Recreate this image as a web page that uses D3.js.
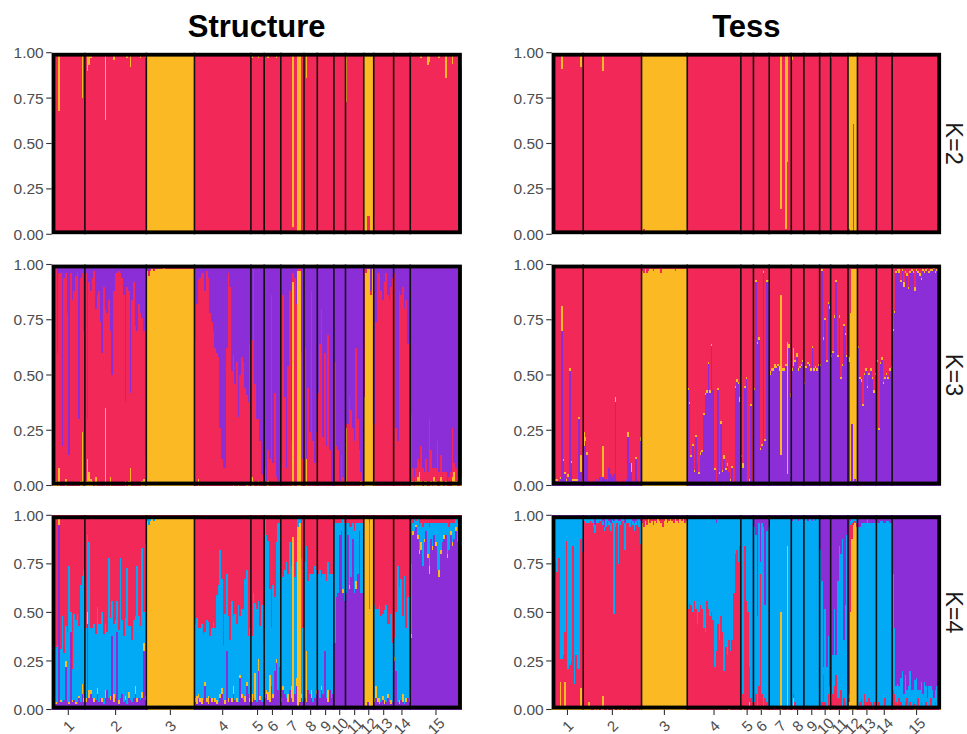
<!DOCTYPE html>
<html><head><meta charset="utf-8">
<script src="https://cdn.jsdelivr.net/npm/d3@7"></script>
<style>
body{margin:0;background:#fff}
text{font-family:"Liberation Sans",Arial,Helvetica,sans-serif}
</style>
</head><body>
<svg id="chart" width="967" height="734"></svg>
<script>
// ---------------- data ----------------
const popLabels = ["1","2","3","4","5","6","7","8","9","10","11","12","13","14","15"];
const popSizes  = [20,37,29,34,8,10,14,8,10,7,11,6,12,10,31];
const methodTitles = ["Structure","Tess"];
const kLabels = ["K=2","K=3","K=4"];
const yTickValues = [0,0.25,0.5,0.75,1];
const yTickLabels = ["0.00","0.25","0.50","0.75","1.00"];
const clusterColors = {red:"#F22858", orange:"#FBB923", purple:"#8C2ED7", blue:"#02A9F4"};

// membership (%) per individual, grouped by population
const strK2Orange = [
 [1,0,0,1,32,0,0,0,0,0,0,0,0,0,0,0,0,0,25,1],
 [2,10,7,3,0,0,0,0,0,0,0,0,37,0,0,0,0,4,0,0,0,0,0,0,0,3,0,8,0,0,0,0,0,3,0,0,3],
 [100,100,100,100,100,100,100,100,100,100,100,100,100,100,100,100,100,100,100,100,100,100,100,100,100,100,100,100,100],
 [2,1,0,0,0,0,0,0,0,0,0,0,0,0,0,0,0,0,0,0,0,0,0,0,0,0,0,0,0,0,0,0,0,0],
 [3,0,2,1,3,0,0,0],
 [0,0,3,0,0,0,0,3,0,0],
 [0,0,0,0,0,0,0,96,0,0,99,100,0,2],
 [0,14,0,0,0,0,0,0],
 [0,0,0,0,0,0,0,0,0,0],
 [0,0,0,0,0,0,0],
 [27,0,0,0,0,0,0,0,0,2,0],
 [100,98,90,90,98,100],
 [1,0,0,1,0,0,0,0,0,0,0,0],
 [0,0,0,0,0,0,0,0,0,0],
 [0,0,0,0,0,0,3,0,0,0,7,5,0,0,0,0,0,3,0,0,0,14,0,0,0,6,0,0,0,0,8]
];
const tessK2Orange = [
 [0,0,0,0,0,0,9,0,0,0,0,0,0,0,0,0,0,0,8,0],
 [1,2,0,0,0,0,0,0,0,0,0,0,10,0,0,0,0,0,0,0,0,0,0,0,0,0,0,2,0,0,0,0,0,0,0,0,0],
 [98,97,99,98,99,99,99,99,99,98,99,99,99,99,99,98,99,99,99,99,99,99,99,99,99,99,99,99,99],
 [0,0,0,0,0,0,0,0,0,0,0,0,0,0,0,0,0,0,0,0,0,0,0,0,0,1,0,0,0,0,0,0,0,0],
 [0,0,0,0,0,0,0,0],
 [0,0,0,0,0,0,0,0,0,0],
 [0,0,0,0,0,0,0,86,0,0,97,60,0,0],
 [4,0,0,0,0,0,0,0],
 [0,0,0,0,0,0,0,0,0,0],
 [0,0,0,0,0,0,0],
 [3,0,0,0,0,0,0,0,0,0,0],
 [97,98,98,39,98,98],
 [0,0,0,0,0,0,0,0,0,0,0,0],
 [0,0,0,0,0,0,0,0,0,0],
 [0,0,0,0,0,0,0,0,0,0,1,0,0,0,0,0,0,0,0,0,0,0,2,0,0,0,0,0,0,0,1]
];
const strK3Orange = [
 [0,2,2,0,8,0,0,0,3,0,0,0,0,0,0,0,0,2,24,0],
 [2,12,6,3,2,0,4,0,0,0,0,0,35,0,0,4,0,0,0,0,0,0,0,0,2,0,2,8,0,0,0,0,0,0,2,3,0],
 [97,95,97,98,97,98,98,98,98,98,99,98,98,98,98,98,98,98,98,98,98,98,98,98,98,98,98,98,98],
 [0,0,3,0,0,0,0,0,0,0,0,0,0,0,0,0,0,0,0,0,0,0,0,1,0,0,1,0,0,0,0,1,0,0],
 [4,2,0,0,2,0,0,0],
 [0,0,2,0,0,0,0,0,0,0],
 [0,0,0,0,0,0,0,92,0,0,97,97,0,0],
 [0,12,0,0,0,0,0,0],
 [0,0,0,0,0,0,0,0,0,0],
 [0,0,0,0,0,0,0],
 [26,0,0,0,0,0,0,0,0,2,0],
 [40,96,98,98,86,98],
 [2,0,0,0,0,0,0,0,0,0,0,0],
 [0,0,0,0,0,0,0,0,0,0],
 [2,2,0,2,4,6,2,0,2,2,0,0,2,0,4,2,0,0,4,2,0,2,0,0,0,4,6,2,0,0,4]
];
const strK3Red = [
 [85,85,96,60,88,96,18,94,93,78,14,96,84,88,95,96,30,92,72,70],
 [94,18,86,85,92,97,76,86,88,74,60,90,45,78,84,66,50,88,96,96,97,96,94,86,36,90,86,34,84,92,72,70,82,78,74,67,14],
 [1,2,1,1,1,1,1,0,1,1,0,1,1,1,1,1,1,1,1,1,1,1,1,1,1,1,1,1,1],
 [66,82,90,94,96,96,88,97,94,78,74,70,62,60,58,26,12,8,8,62,96,90,52,58,46,56,30,50,58,56,44,40,38,64],
 [62,96,46,30,28,20,5,4],
 [8,2,14,12,86,10,42,4,2,2],
 [10,86,40,8,54,88,20,4,94,82,1,1,60,12],
 [62,0,44,24,88,20,10,24],
 [42,64,80,22,60,18,68,16,2,0],
 [56,18,16,2,14,4,2],
 [2,28,40,34,26,20,62,30,16,4,2],
 [58,2,0,0,2,0],
 [26,74,96,96,88,84,92,96,86,84,90,94],
 [96,26,20,88,86,90,80,84,64,66],
 [30,6,4,6,8,4,16,8,4,10,6,30,14,8,4,6,20,6,10,4,6,4,2,4,6,22,4,6,2,4,6]
];
const tessK3Purple = [
 [2,2,2,2,1,3,70,11,5,2,4,52,10,2,2,2,2,30,6,1],
 [18,20,14,2,1,1,2,2,3,2,4,2,4,3,3,2,8,5,4,5,38,2,1,1,1,2,1,3,22,10,6,2,2,12,3,1,20],
 [0,0,0,0,0,0,0,0,0,0,0,0,0,0,0,0,0,0,0,0,0,0,0,0,0,0,0,0,0],
 [43,37,13,18,6,22,10,5,14,15,32,41,42,55,42,63,43,7,1,43,5,28,6,12,7,9,6,2,8,1,44,47,46,38],
 [13,8,44,48,2,2,36,2],
 [43,92,64,66,16,18,96,20,92,92],
 [50,52,52,53,53,54,52,14,52,52,54,5,62,40],
 [52,54,56,58,52,53,54,56],
 [46,53,55,54,52,62,52,53,52,54],
 [54,97,66,75,56,82,80],
 [58,60,76,92,58,76,48,54,72,68,58],
 [56,2,28,2,3,2],
 [62,48,47,36,50,52,44,50,52,48,42,50],
 [56,25,55,57,46,48,50,48,52,53],
 [70,78,96,97,96,92,97,90,96,95,89,96,97,96,88,97,96,95,93,97,96,97,98,96,97,97,98,96,97,96,95]
];
const tessK3Orange = [
 [1,1,1,1,0,1,11,1,1,1,1,1,1,1,1,1,1,1,8,1],
 [6,2,1,0,0,0,0,0,0,0,0,0,14,0,0,0,0,0,0,0,2,0,0,0,0,0,0,0,2,0,4,0,0,1,0,0,2],
 [97,96,98,96,97,98,98,97,98,98,98,98,96,98,98,98,98,98,98,98,98,97,98,98,98,98,98,98,98],
 [1,1,1,1,1,1,0,1,1,1,1,1,1,1,1,1,0,1,0,1,1,1,1,2,1,1,0,1,1,0,1,1,1,2],
 [1,2,1,1,0,1,1,0],
 [1,1,1,1,1,1,1,1,1,1],
 [2,1,1,2,1,1,2,72,1,1,1,60,2,2],
 [1,8,1,2,1,1,1,1],
 [1,1,1,1,1,1,1,1,1,1],
 [1,1,1,1,1,1,1],
 [1,1,1,1,1,1,1,1,1,1,1],
 [2,76,70,96,95,96],
 [1,1,1,1,1,1,1,1,1,1,1,1],
 [1,1,1,1,1,1,1,1,1,1],
 [1,1,1,1,2,1,1,2,1,1,1,1,1,1,2,1,1,1,1,1,1,1,1,1,1,1,1,1,1,1,2]
];
const strK4Purple = [
 [5,4,3,3,95,4,4,5,22,4,3,40,4,5,3,3,6,4,8,4],
 [4,44,6,8,6,4,5,8,4,6,4,3,6,10,6,5,38,4,6,40,3,6,8,4,5,3,6,5,4,6,8,4,6,5,6,30,5],
 [1,0,0,0,0,0,0,0,0,0,0,0,0,0,0,0,0,0,0,0,0,0,0,0,0,0,0,0,0],
 [4,3,6,4,3,5,12,4,3,6,4,5,4,3,4,6,8,5,3,30,4,6,4,8,5,4,4,16,6,5,4,12,8,4],
 [4,6,5,4,20,5,4,6],
 [6,8,5,4,12,6,20,24,10,22],
 [4,10,8,6,4,10,6,4,8,12,2,4,6,4],
 [6,4,10,8,6,4,6,8],
 [10,6,10,8,30,6,4,10,6,8],
 [34,58,60,90,92,60,56],
 [60,90,62,68,88,60,62,70,92,60,60],
 [2,2,4,2,2,2],
 [4,6,4,3,4,5,3,4,6,4,3,4],
 [25,20,4,3,5,4,3,4,6,4],
 [37,90,92,94,88,80,82,74,86,92,78,70,88,82,90,84,72,68,80,86,88,90,78,82,90,84,88,92,86,90,84]
];
const strK4Orange = [
 [1,2,1,0,3,1,0,0,3,0,1,0,1,0,1,0,1,0,5,2],
 [2,6,4,2,0,2,0,3,0,0,2,0,4,0,0,2,0,4,0,0,2,0,0,0,2,0,3,0,0,0,4,2,0,0,3,4,2],
 [96,95,97,98,97,98,98,98,98,98,98,98,98,98,98,98,98,98,98,98,98,98,98,98,98,98,98,98,98],
 [2,4,2,2,3,0,2,2,4,0,2,0,2,2,0,2,3,0,2,0,2,0,2,4,0,2,0,2,2,0,3,2,0,2],
 [4,0,14,0,6,2,0,0],
 [0,2,4,14,0,2,0,2,0,0],
 [2,2,0,0,4,0,6,85,0,4,92,92,2,0],
 [0,26,0,0,4,0,0,2],
 [0,0,2,0,0,0,6,0,0,0],
 [0,0,0,0,0,2,0],
 [0,0,2,0,0,0,4,0,0,0,0],
 [96,96,94,50,96,96],
 [2,6,2,3,0,2,2,0,2,0,2,0],
 [2,0,0,2,0,4,0,2,0,2],
 [2,2,0,1,2,2,4,0,2,0,2,4,0,2,0,2,0,4,2,0,2,0,2,0,2,2,0,2,0,2,2]
];
const strK4Blue = [
 [42,38,28,30,0,26,44,24,18,36,70,10,16,44,42,46,36,60,56,66],
 [36,40,76,32,36,38,34,42,40,38,44,36,34,30,72,40,18,36,40,16,36,72,38,34,40,70,34,38,32,40,36,68,42,38,74,16,78],
 [2,3,2,1,2,1,1,1,1,1,1,1,1,1,1,1,1,1,1,1,1,1,1,1,1,1,1,1,1],
 [38,40,34,36,38,34,26,40,38,32,36,40,36,54,60,74,56,28,44,40,42,30,50,36,44,38,50,30,44,46,60,58,30,36],
 [30,54,36,48,30,36,50,28],
 [92,80,78,44,30,56,38,60,86,74],
 [64,56,64,70,62,76,62,0,60,60,4,2,70,38],
 [70,54,56,62,60,66,68,62],
 [60,66,56,62,40,60,66,60,64,62],
 [62,38,36,6,4,36,40],
 [36,6,30,26,8,32,30,26,4,36,36],
 [0,0,0,44,0,0],
 [48,40,46,48,44,42,46,50,36,40,44,30],
 [10,30,70,58,62,40,66,36,52,40],
 [36,4,6,2,8,12,10,20,8,4,16,20,8,12,6,10,24,24,14,10,6,6,16,12,4,10,8,4,10,6,12]
];
const tessK4Orange = [
 [1,1,1,1,1,14,1,1,14,1,1,1,1,1,1,1,1,1,11,1],
 [1,1,2,4,1,0,0,1,0,1,0,1,7,0,0,1,0,0,0,1,0,0,1,0,1,0,0,1,0,0,1,0,0,0,1,0,1],
 [96,94,97,95,98,96,97,95,97,96,98,97,96,94,97,98,96,97,98,97,96,98,97,96,98,97,98,96,97],
 [0,0,0,0,0,0,0,0,0,0,0,0,0,0,0,0,0,0,0,0,0,0,0,0,0,0,2,0,0,0,0,0,0,0],
 [0,2,0,0,0,4,0,0],
 [0,0,0,0,0,2,0,0,0,0],
 [0,0,0,0,0,0,0,50,0,0,0,84,0,0],
 [0,6,0,0,0,0,0,0],
 [0,0,0,0,0,0,0,0,0,0],
 [0,0,0,0,0,2,0],
 [0,0,0,0,0,2,0,0,0,0,0],
 [4,50,88,95,96,94],
 [0,0,0,0,0,0,2,0,0,0,0,0],
 [0,0,0,0,0,0,0,0,0,0],
 [0,0,0,1,0,0,0,0,0,0,0,0,0,0,1,0,0,0,0,0,0,0,0,0,0,0,0,0,0,0,1]
];
const tessK4Red = [
 [72,64,75,70,77,12,25,27,26,86,20,22,24,83,12,27,20,20,77,80],
 [96,95,94,92,96,96,94,90,96,95,97,96,88,92,94,96,95,92,96,48,94,96,74,95,96,96,82,95,96,94,96,95,92,95,96,94,84],
 [3,5,2,4,1,3,2,4,2,3,1,2,3,5,2,1,3,2,1,2,3,1,2,3,1,2,1,3,2],
 [52,55,54,50,56,52,44,50,54,52,42,40,56,52,48,50,46,22,30,44,36,48,40,20,32,28,34,30,36,60,80,82,76,84],
 [4,6,84,56,50,18,6,4],
 [4,8,2,12,70,6,2,6,4,2],
 [2,2,1,2,1,2,1,0,2,1,2,0,1,2],
 [1,2,4,1,1,2,1,1],
 [1,1,1,1,1,1,1,1,1,1],
 [2,4,18,4,2,6,2],
 [4,8,12,18,6,4,10,2,6,4,2],
 [2,45,8,2,1,2],
 [2,4,6,2,8,4,2,6,4,2,4,2],
 [2,4,2,1,2,6,2,1,2,4],
 [10,8,4,2,6,4,2,2,4,6,2,4,2,4,2,2,6,2,4,2,2,4,2,2,6,2,2,4,2,2,4]
];
const tessK4Blue = [
 [26,34,23,28,21,73,73,71,59,12,78,76,74,15,86,71,78,78,11,18],
 [2,2,2,4,2,2,4,4,2,2,1,2,2,2,4,2,2,4,2,48,4,2,22,2,2,2,14,2,2,4,2,2,4,2,2,4,12],
 [0,0,0,0,0,0,0,0,0,0,0,0,0,0,0,0,0,0,0,0,0,0,0,0,0,0,0,0,0],
 [46,44,44,48,42,46,54,48,44,46,56,58,42,46,50,48,52,76,66,54,62,50,58,78,66,70,62,68,62,38,18,16,22,14],
 [94,90,14,42,48,76,92,94],
 [90,82,46,84,6,88,92,48,88,92],
 [97,96,97,97,98,96,97,48,96,97,96,14,97,96],
 [96,90,94,97,96,96,97,97],
 [96,97,96,97,97,96,97,96,97,97],
 [80,62,4,48,20,30,10],
 [4,20,40,10,60,78,70,86,30,50,88],
 [2,2,2,1,1,2],
 [92,90,90,94,88,92,94,90,92,94,92,94],
 [94,92,95,96,94,90,95,96,94,92],
 [60,34,8,10,6,12,18,6,14,4,10,16,8,6,12,14,4,8,10,6,12,8,4,10,6,8,4,6,10,2,10]
];

// panel specs: stacking order bottom -> top; the cluster not listed in "given" is the remainder
const panelSpecs = [
  {col:0,row:0, order:["red","orange"], given:{orange:strK2Orange}},
  {col:1,row:0, order:["red","orange"], given:{orange:tessK2Orange}},
  {col:0,row:1, order:["orange","red","purple"], given:{orange:strK3Orange, red:strK3Red}},
  {col:1,row:1, order:["purple","orange","red"], given:{purple:tessK3Purple, orange:tessK3Orange}},
  {col:0,row:2, order:["purple","orange","blue","red"], given:{purple:strK4Purple, orange:strK4Orange, blue:strK4Blue}},
  {col:1,row:2, order:["orange","red","blue","purple"], given:{orange:tessK4Orange, red:tessK4Red, blue:tessK4Blue}}
];

// ---------------- layout ----------------
const cols = [{x0:51.7,x1:461.7},{x0:551.7,x1:941}];
const rows = [{y0:52.7,y1:234.3},{y0:264.5,y1:485.5},{y0:515.3,y1:709.5}];
const N = d3.sum(popSizes);
const popStart = popSizes.map((s,i)=>d3.sum(popSizes.slice(0,i)));

const svg = d3.select("#chart");

// titles
methodTitles.forEach((t,i)=>{
  svg.append("text").attr("x",(cols[i].x0+cols[i].x1)/2).attr("y",37)
    .attr("text-anchor","middle").attr("font-size",31).attr("font-weight","bold")
    .attr("fill","#000").text(t);
});
// K strip labels
kLabels.forEach((t,i)=>{
  const cy=(rows[i].y0+rows[i].y1)/2;
  svg.append("text").attr("transform",`translate(953.5,${cy}) rotate(90)`)
    .attr("text-anchor","middle").attr("dominant-baseline","central")
    .attr("font-size",23.5).attr("fill","#1a1a1a").text(t);
});

function buildRows(spec){
  const comps = Object.keys(spec.given);
  const rest = spec.order.find(c=>!comps.includes(c));
  const flat = {};
  comps.forEach(c=>flat[c]=spec.given[c].flat());
  const out=[];
  for(let i=0;i<N;i++){
    const v={};
    let s=0;
    comps.forEach(c=>{v[c]=(flat[c][i]||0)/100; s+=v[c];});
    if(s>1){comps.forEach(c=>v[c]/=s); s=1;}
    v[rest]=Math.max(0,1-s);
    out.push(v);
  }
  return out;
}

panelSpecs.forEach(spec=>{
  const {x0,x1}=cols[spec.col];
  const {y0,y1}=rows[spec.row];
  const g=svg.append("g");
  const x=d3.scaleBand().domain(d3.range(N)).range([x0,x1]).padding(0);
  const y=d3.scaleLinear().domain([0,1]).range([y1,y0]);
  const data=buildRows(spec);
  const series=d3.stack().keys(spec.order)(data);
  const bw=x.bandwidth();
  g.selectAll("g.s").data(series).join("g").attr("class","s")
    .attr("fill",d=>clusterColors[d.key]).attr("shape-rendering","crispEdges")
    .selectAll("rect").data(d=>d).join("rect")
    .attr("x",(d,i)=>x(i)).attr("width",bw)
    .attr("y",d=>y(d[1])).attr("height",d=>Math.max(0,y(d[0])-y(d[1])));
  // population separators
  g.selectAll("line.sep").data(popStart.slice(1)).join("line").attr("class","sep")
    .attr("x1",d=>x(d)).attr("x2",d=>x(d)).attr("y1",y0).attr("y2",y1)
    .attr("stroke","#111").attr("stroke-width",1.6);
  // border
  g.append("rect").attr("x",x0+1.8).attr("y",y0+2).attr("width",x1-x0-3.6).attr("height",y1-y0-4)
    .attr("fill","none").attr("stroke","#000").attr("stroke-width",3.8);
  // y axis
  const ya=g.append("g");
  yTickValues.forEach((t,i)=>{
    ya.append("line").attr("x1",x0-5.5).attr("x2",x0).attr("y1",y(t)).attr("y2",y(t))
      .attr("stroke","#333").attr("stroke-width",1.1);
    ya.append("text").attr("x",x0-8).attr("y",y(t)).attr("dy","0.36em")
      .attr("text-anchor","end").attr("font-size",15.5).attr("fill","#4d4d4d").text(yTickLabels[i]);
  });
  // x axis (bottom row only)
  if(spec.row===2){
    popSizes.forEach((s,i)=>{
      const cx=x(popStart[i])+s*bw/2;
      g.append("line").attr("x1",cx).attr("x2",cx).attr("y1",y1).attr("y2",y1+5.5)
        .attr("stroke","#333").attr("stroke-width",1.1);
      g.append("text").attr("transform",`translate(${cx},${y1+16.5}) rotate(-45)`)
        .attr("text-anchor","middle").attr("dominant-baseline","central")
        .attr("font-size",15).attr("fill","#4d4d4d").text(popLabels[i]);
    });
  }
});
</script>
</body></html>
